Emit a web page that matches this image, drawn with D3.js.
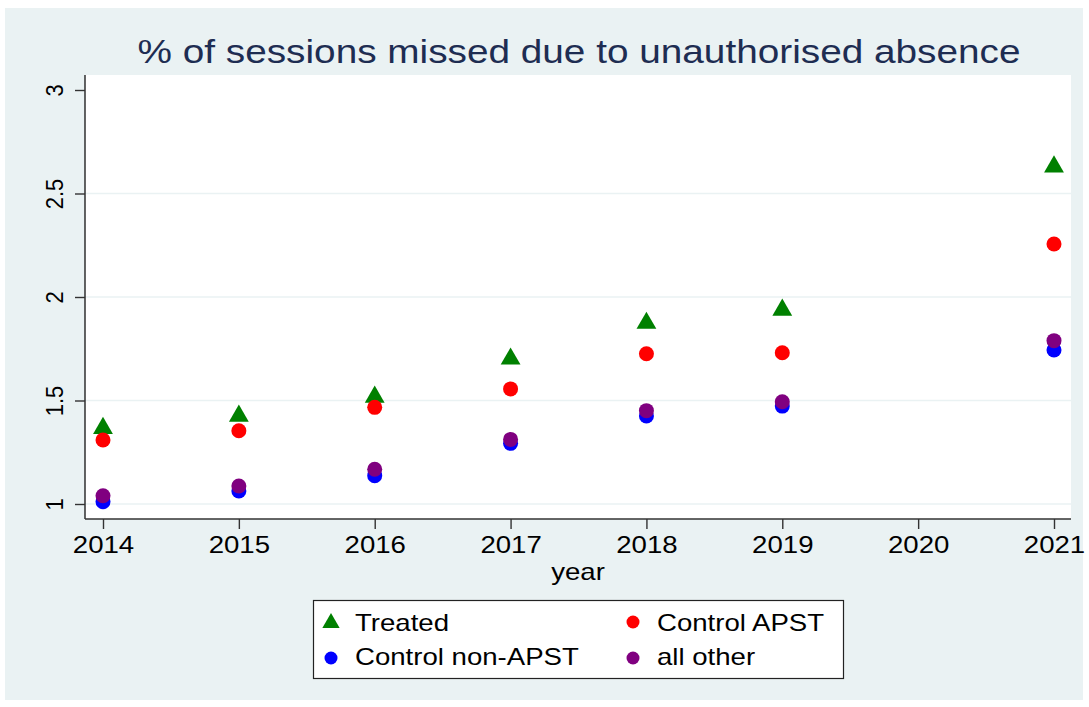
<!DOCTYPE html>
<html>
<head>
<meta charset="utf-8">
<script src="https://cdn.jsdelivr.net/npm/d3@7"></script>
<style>
  body { margin: 0; background: #fff; }
  text { font-family: "Liberation Sans", Arial, sans-serif; }
</style>
</head>
<body>
<div id="chart"></div>
<script>
// canvas
let w = 1089;
let h = 707;
let plot = {left: 85, right: 1071, top: 75, bottom: 519};
// the reference text is a bit wider than Liberation Sans
let stretch = 1.2;

// data
let years = [2014, 2015, 2016, 2017, 2018, 2019, 2021];
let xTicks = [2014, 2015, 2016, 2017, 2018, 2019, 2020, 2021];
let yTicks = [1, 1.5, 2, 2.5, 3];

let treated = [1.366, 1.425, 1.517, 1.701, 1.874, 1.937, 2.629];
let controlApst = [1.309, 1.354, 1.467, 1.556, 1.726, 1.731, 2.256];
let controlNonApst = [1.011, 1.063, 1.137, 1.293, 1.425, 1.473, 1.744];
let allOther = [1.040, 1.087, 1.168, 1.312, 1.451, 1.494, 1.789];

let seriesNames = ["Treated", "Control APST", "Control non-APST", "all other"];
let seriesColors = ["#008000", "#ff0000", "#0000ff", "#800080"];

let series = [
  {name: seriesNames[0], values: treated, color: seriesColors[0], shape: "triangle"},
  {name: seriesNames[1], values: controlApst, color: seriesColors[1], shape: "circle"},
  {name: seriesNames[2], values: controlNonApst, color: seriesColors[2], shape: "circle"},
  {name: seriesNames[3], values: allOther, color: seriesColors[3], shape: "circle"}
];

let x = d3.scaleLinear().domain([2014, 2021]).range([103, 1054]);
let y = d3.scaleLinear().domain([1, 3]).range([504, 90]);

var svg = d3.select("#chart")
            .append("svg")
            .attr("width", w)
            .attr("height", h);

// outer graph region
svg.append("rect")
   .attr("x", 5).attr("y", 8)
   .attr("width", 1078).attr("height", 692)
   .style("fill", "#eaf2f3");

// plot region
svg.append("rect")
   .attr("x", plot.left).attr("y", plot.top)
   .attr("width", plot.right - plot.left).attr("height", plot.bottom - plot.top)
   .style("fill", "#ffffff");

// grid lines
svg.selectAll("line.grid")
   .data(yTicks.filter(function(d) { return d < 3; }))
   .enter()
   .append("line")
   .attr("class", "grid")
   .attr("x1", plot.left).attr("x2", plot.right)
   .attr("y1", function(d) { return y(d); })
   .attr("y2", function(d) { return y(d); })
   .style("stroke", "#eaf2f3")
   .style("stroke-width", 1.6);

// y axis
var yAxis = d3.axisLeft(y).tickValues(yTicks).tickSize(10).tickFormat(d3.format("~g"));
var gy = svg.append("g")
   .attr("transform", "translate(" + plot.left + ",0)")
   .call(yAxis);
gy.select(".domain").attr("d", "M0," + plot.top + "V" + plot.bottom).style("stroke", "#222").style("stroke-width", 1.4);
gy.selectAll(".tick line").style("stroke", "#333").style("stroke-width", 1.4);
gy.selectAll(".tick text")
  .attr("x", 0).attr("y", 0).attr("dy", 0)
  .attr("transform", "translate(-22,0) scale(1.12,1) rotate(-90)")
  .attr("text-anchor", "middle")
  .style("font-size", "22px")
  .style("fill", "#000");

// x axis
var xAxis = d3.axisBottom(x).tickValues(xTicks).tickSize(10).tickFormat(d3.format("d"));
var gx = svg.append("g")
   .attr("transform", "translate(0," + plot.bottom + ")")
   .call(xAxis);
gx.select(".domain").attr("d", "M" + plot.left + ",0H" + plot.right).style("stroke", "#333").style("stroke-width", 1.4);
gx.selectAll(".tick line").style("stroke", "#333").style("stroke-width", 1.4);
gx.selectAll(".tick text")
  .attr("y", 0).attr("dy", 0)
  .attr("transform", "translate(0,34) scale(" + stretch + ",1)")
  .style("font-size", "23px")
  .style("fill", "#000");

// axis title
svg.append("text")
   .attr("transform", "translate(" + ((plot.left + plot.right) / 2) + ",580) scale(" + stretch + ",1)")
   .attr("text-anchor", "middle")
   .style("font-size", "23px")
   .style("fill", "#000")
   .text("year");

// main title
svg.append("text")
   .attr("transform", "translate(579,63) scale(1.14,1)")
   .attr("text-anchor", "middle")
   .style("font-size", "34px")
   .style("fill", "#1e2d52")
   .text("% of sessions missed due to unauthorised absence");

// markers
var triangle = d3.symbol().type(d3.symbolTriangle).size(170);
series.forEach(function(s) {
  var g = svg.append("g");
  if (s.shape === "triangle") {
    g.selectAll("path")
     .data(s.values)
     .enter()
     .append("path")
     .attr("d", triangle)
     .attr("transform", function(d, i) {
        return "translate(" + x(years[i]) + "," + y(d) + ")";
     })
     .style("fill", s.color);
  } else {
    g.selectAll("circle")
     .data(s.values)
     .enter()
     .append("circle")
     .attr("cx", function(d, i) { return x(years[i]); })
     .attr("cy", function(d) { return y(d); })
     .attr("r", 7.5)
     .style("fill", s.color);
  }
});

// legend
svg.append("rect")
   .attr("x", 313.5).attr("y", 600.5)
   .attr("width", 530).attr("height", 78)
   .style("fill", "#fff")
   .style("stroke", "#222")
   .style("stroke-width", 1.2);

var legendPos = [
  {mx: 331, tx: 355, my: 622, ty: 631},
  {mx: 633, tx: 657, my: 622, ty: 631},
  {mx: 331, tx: 355, my: 658, ty: 665},
  {mx: 633, tx: 657, my: 658, ty: 665}
];
var legendTriangle = d3.symbol().type(d3.symbolTriangle).size(130);
series.forEach(function(s, i) {
  var p = legendPos[i];
  if (s.shape === "triangle") {
    svg.append("path")
       .attr("d", legendTriangle)
       .attr("transform", "translate(" + p.mx + "," + (p.my + 1) + ")")
       .style("fill", s.color);
  } else {
    svg.append("circle")
       .attr("cx", p.mx).attr("cy", p.my).attr("r", 6.5)
       .style("fill", s.color);
  }
  svg.append("text")
     .attr("transform", "translate(" + p.tx + "," + p.ty + ") scale(" + stretch + ",1)")
     .style("font-size", "23px")
     .style("fill", "#000")
     .text(s.name);
});
</script>
</body>
</html>
